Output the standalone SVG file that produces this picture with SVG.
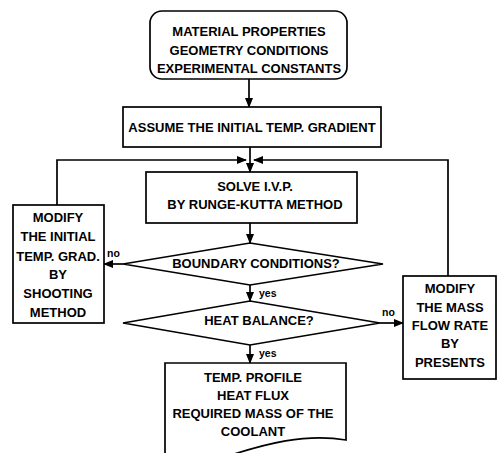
<svg xmlns="http://www.w3.org/2000/svg" width="498" height="453" viewBox="0 0 498 453">
<defs>
<marker id="ah" markerWidth="10" markerHeight="8" refX="9" refY="4" orient="auto" markerUnits="userSpaceOnUse">
<path d="M0,0 L10,4 L0,8 Z" fill="#000"/>
</marker>
<style>
.box{fill:#fff;stroke:#000;stroke-width:1.7}
.t{font-family:"Liberation Sans",Arial,sans-serif;font-weight:bold;font-size:13px;text-anchor:middle;fill:#000}
.s{font-family:"Liberation Sans",Arial,sans-serif;font-weight:bold;font-size:10.5px;fill:#000}
.c{fill:none;stroke:#000;stroke-width:1.7}
</style>
</defs>
<rect width="498" height="453" fill="#fff"/>
<g id="connectors">
<line class="c" x1="249" y1="79" x2="249" y2="107" marker-end="url(#ah)"/>
<polyline class="c" points="57,205 57,160 246,160" marker-end="url(#ah)"/>
<polyline class="c" points="448,276 448,160 254,160" marker-end="url(#ah)"/>
<line class="c" x1="250" y1="147" x2="250" y2="172" marker-end="url(#ah)"/>
<line class="c" x1="250" y1="223" x2="250" y2="243" marker-end="url(#ah)"/>
<line class="c" x1="123" y1="264" x2="104" y2="264" marker-end="url(#ah)"/>
<line class="c" x1="250" y1="285" x2="250" y2="301" marker-end="url(#ah)"/>
<line class="c" x1="380" y1="323" x2="403" y2="323" marker-end="url(#ah)"/>
<line class="c" x1="250" y1="345" x2="250" y2="363" marker-end="url(#ah)"/>
<text class="s" x="107" y="257">no</text>
<text class="s" x="259" y="297">yes</text>
<text class="s" x="382" y="316">no</text>
<text class="s" x="259" y="357">yes</text>
</g>
<g id="input">
<rect class="box" x="150" y="11" width="197" height="68" rx="12"/>
<text class="t" x="249" y="36">MATERIAL PROPERTIES</text>
<text class="t" x="249" y="54.5">GEOMETRY CONDITIONS</text>
<text class="t" x="249" y="73">EXPERIMENTAL CONSTANTS</text>
</g>
<g id="assume">
<rect class="box" x="123" y="107" width="258" height="40"/>
<text class="t" x="252" y="131.5">ASSUME THE INITIAL TEMP. GRADIENT</text>
</g>
<g id="solve">
<rect class="box" x="146" y="172" width="211" height="51"/>
<text class="t" x="255" y="190.5">SOLVE I.V.P.</text>
<text class="t" x="255" y="208.5">BY RUNGE-KUTTA METHOD</text>
</g>
<g id="boundary">
<polygon class="box" points="250,243 383,264 250,285 123,264"/>
<text class="t" x="256" y="268">BOUNDARY CONDITIONS?</text>
</g>
<g id="heat">
<polygon class="box" points="250,301 380,323 250,345 123,323"/>
<text class="t" x="259" y="325">HEAT BALANCE?</text>
</g>
<g id="modify-grad">
<rect class="box" x="13" y="205" width="91" height="118"/>
<text class="t" x="58" y="221.5">MODIFY</text>
<text class="t" x="58" y="241">THE INITIAL</text>
<text class="t" x="58" y="260.5">TEMP. GRAD.</text>
<text class="t" x="58" y="279">BY</text>
<text class="t" x="58" y="297.5">SHOOTING</text>
<text class="t" x="58" y="316.5">METHOD</text>
</g>
<g id="modify-mass">
<rect class="box" x="403" y="276" width="93" height="103"/>
<text class="t" x="450" y="292.5">MODIFY</text>
<text class="t" x="450" y="311.5">THE MASS</text>
<text class="t" x="450" y="329.5">FLOW RATE</text>
<text class="t" x="450" y="348">BY</text>
<text class="t" x="450" y="367">PRESENTS</text>
</g>
<g id="output">
<path class="box" d="M165,363 H346 V440 C305,433 265,444 228,456 L165,456 Z"/>
<text class="t" x="253" y="381.5">TEMP. PROFILE</text>
<text class="t" x="253" y="399.5">HEAT FLUX</text>
<text class="t" x="253" y="417.5">REQUIRED MASS OF THE</text>
<text class="t" x="253" y="435.5">COOLANT</text>
</g>
</svg>
